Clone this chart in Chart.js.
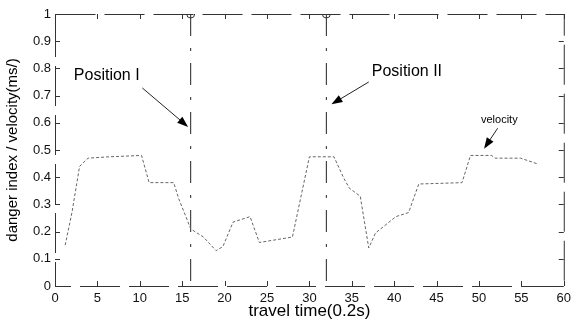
<!DOCTYPE html>
<html>
<head>
<meta charset="utf-8">
<script src="https://cdn.jsdelivr.net/npm/chart.js@4.4.0/dist/chart.umd.min.js"></script>
<style>
  html, body { margin: 0; padding: 0; background: #fff; }
</style>
</head>
<body>
<canvas id="chart" width="576" height="326"></canvas>
<script>
// Velocity trace over travel time (steps of 0.2s)
const travelTime = [1.2, 2.0, 2.9, 3.9, 6.4, 10.2, 11.1, 14.0, 14.6, 15.5, 16.0, 17.5, 19.0, 19.8, 21.0,
    23.0, 24.1, 28.0, 30.0, 32.9, 34.0, 34.7, 36.0, 37.0, 37.8, 40.2, 41.7, 42.9, 48.0, 49.0,
    51.5, 51.9, 54.9, 56.8];
const velocity = [0.15, 0.27, 0.44, 0.47, 0.475, 0.48, 0.38, 0.38, 0.32, 0.25, 0.21, 0.18, 0.13, 0.145, 0.235,
    0.255, 0.16, 0.18, 0.475, 0.475, 0.40, 0.36, 0.33, 0.14, 0.195, 0.255, 0.27, 0.375, 0.38, 0.48,
    0.48, 0.47, 0.47, 0.45];

// Danger index markers (Position I, Position II)
const markTimes = [16, 32];
const markLevels = [1, 0];

// Axis ticks
const xTicks = [0, 5, 10, 15, 20, 25, 30, 35, 40, 45, 50, 55, 60];
const yTicks = ['0', '0.1', '0.2', '0.3', '0.4', '0.5', '0.6', '0.7', '0.8', '0.9', '1'];

const FONT = "'Liberation Sans', Arial, sans-serif";

// Text callouts, placed in data coordinates
const notes = [
    { text: 'Position I', size: 16, at: [6.1, 0.772], from: [10.3, 0.728], to: [15.7, 0.585] },
    { text: 'Position II', size: 16, at: [41.5, 0.787], from: [37.0, 0.75], to: [32.6, 0.668] },
    { text: 'velocity', size: 11, at: [52.4, 0.61], from: [52.2, 0.58], to: [50.6, 0.505] }
];

const markerSets = markTimes.map(t => ({
    data: markLevels.map(l => ({ x: t, y: l })),
    borderColor: '#222',
    borderWidth: 1,
    borderDash: [22, 12, 3, 12],
    pointRadius: [4, 0],
    pointBorderColor: '#333',
    pointBackgroundColor: 'rgba(0,0,0,0)',
    pointBorderWidth: 1
}));

// frame, inward ticks and callouts
const framePlugin = {
    id: 'frame',
    afterDatasetsDraw(chart) {
        const { ctx, chartArea: a, scales: { x, y } } = chart;
        ctx.save();
        ctx.strokeStyle = '#333';
        ctx.lineWidth = 1;
        ctx.setLineDash([40, 9]);
        ctx.strokeRect(a.left + 0.5, a.top + 0.5, a.right - a.left, a.bottom - a.top);
        ctx.setLineDash([]);

        ctx.beginPath();
        xTicks.forEach(v => {
            const px = Math.round(x.getPixelForValue(v)) + 0.5;
            ctx.moveTo(px, a.bottom); ctx.lineTo(px, a.bottom - 5);
            ctx.moveTo(px, a.top); ctx.lineTo(px, a.top + 5);
        });
        yTicks.forEach(v => {
            const py = Math.round(y.getPixelForValue(+v)) + 0.5;
            ctx.moveTo(a.left, py); ctx.lineTo(a.left + 5, py);
            ctx.moveTo(a.right, py); ctx.lineTo(a.right - 5, py);
        });
        ctx.stroke();

        notes.forEach(n => {
            ctx.fillStyle = '#000';
            ctx.font = n.size + 'px ' + FONT;
            ctx.textAlign = 'center';
            ctx.textBaseline = 'middle';
            ctx.fillText(n.text, x.getPixelForValue(n.at[0]), y.getPixelForValue(n.at[1]));

            const x1 = x.getPixelForValue(n.from[0]), y1 = y.getPixelForValue(n.from[1]);
            const x2 = x.getPixelForValue(n.to[0]), y2 = y.getPixelForValue(n.to[1]);
            const ang = Math.atan2(y2 - y1, x2 - x1);
            ctx.strokeStyle = '#222';
            ctx.beginPath();
            ctx.moveTo(x1, y1);
            ctx.lineTo(x2 - 8 * Math.cos(ang), y2 - 8 * Math.sin(ang));
            ctx.stroke();
            ctx.beginPath();
            ctx.moveTo(x2, y2);
            ctx.lineTo(x2 - 11 * Math.cos(ang) + 4 * Math.sin(ang), y2 - 11 * Math.sin(ang) - 4 * Math.cos(ang));
            ctx.lineTo(x2 - 11 * Math.cos(ang) - 4 * Math.sin(ang), y2 - 11 * Math.sin(ang) + 4 * Math.cos(ang));
            ctx.closePath();
            ctx.fill();
        });
        ctx.restore();
    }
};

const ctx = document.getElementById('chart').getContext('2d');
window.velocityChart = new Chart(ctx, {
    type: 'line',
    data: {
        datasets: [{
            data: travelTime.map((t, i) => ({ x: t, y: velocity[i] })),
            borderColor: '#666',
            borderWidth: 1,
            borderDash: [3, 2],
            pointRadius: 0,
            tension: 0
        }, ...markerSets]
    },
    options: {
        responsive: false,
        animation: false,
        layout: { padding: { left: 0, top: 14, right: 7, bottom: 0 } },
        plugins: { legend: { display: false }, tooltip: { enabled: false } },
        scales: {
            x: {
                type: 'linear',
                min: 0,
                max: 60,
                afterFit: s => { s.height = 40; },
                afterBuildTicks: s => { s.ticks = xTicks.map(v => ({ value: v })); },
                grid: { display: false, drawTicks: false },
                border: { display: false },
                ticks: {
                    padding: 5,
                    maxRotation: 0,
                    autoSkip: false,
                    color: '#111',
                    font: { family: FONT, size: 13 },
                    callback: v => String(v)
                },
                title: {
                    display: true,
                    text: 'travel time(0.2s)',
                    color: '#000',
                    padding: { top: 0, bottom: 4 },
                    font: { family: FONT, size: 17 }
                }
            },
            y: {
                min: 0,
                max: 1,
                afterFit: s => { s.width = 55; },
                afterBuildTicks: s => { s.ticks = yTicks.map(v => ({ value: +v })); },
                grid: { display: false, drawTicks: false },
                border: { display: false },
                ticks: {
                    padding: 4,
                    autoSkip: false,
                    color: '#111',
                    font: { family: FONT, size: 13 },
                    callback: (v, i) => yTicks[i]
                },
                title: {
                    display: true,
                    text: 'danger index / velocity(ms/)',
                    color: '#000',
                    padding: { top: 4, bottom: 0 },
                    font: { family: FONT, size: 15 }
                }
            }
        }
    },
    plugins: [framePlugin]
});
</script>
</body>
</html>
